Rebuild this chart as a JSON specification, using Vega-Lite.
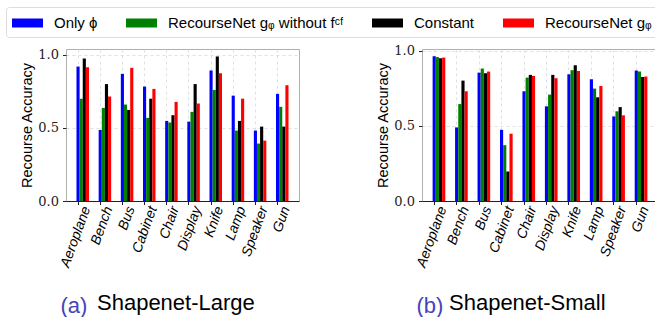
{
  "$schema": "https://vega.github.io/schema/vega-lite/v6.json",
  "autosize": {"type": "pad"},
  "padding": {"left": 5, "top": 6, "right": 0, "bottom": 0},
  "background": "white",
  "datasets": {
    "large": [
      {"category": "Aeroplane", "method": "Only ϕ", "value": 0.92},
      {"category": "Aeroplane", "method": "RecourseNet gᵩ without fᶜᶠ", "value": 0.70},
      {"category": "Aeroplane", "method": "Constant", "value": 0.975},
      {"category": "Aeroplane", "method": "RecourseNet gᵩ", "value": 0.915},
      {"category": "Bench", "method": "Only ϕ", "value": 0.486},
      {"category": "Bench", "method": "RecourseNet gᵩ without fᶜᶠ", "value": 0.637},
      {"category": "Bench", "method": "Constant", "value": 0.80},
      {"category": "Bench", "method": "RecourseNet gᵩ", "value": 0.715},
      {"category": "Bus", "method": "Only ϕ", "value": 0.87},
      {"category": "Bus", "method": "RecourseNet gᵩ without fᶜᶠ", "value": 0.66},
      {"category": "Bus", "method": "Constant", "value": 0.623},
      {"category": "Bus", "method": "RecourseNet gᵩ", "value": 0.911},
      {"category": "Cabinet", "method": "Only ϕ", "value": 0.783},
      {"category": "Cabinet", "method": "RecourseNet gᵩ without fᶜᶠ", "value": 0.569},
      {"category": "Cabinet", "method": "Constant", "value": 0.70},
      {"category": "Cabinet", "method": "RecourseNet gᵩ", "value": 0.767},
      {"category": "Chair", "method": "Only ϕ", "value": 0.548},
      {"category": "Chair", "method": "RecourseNet gᵩ without fᶜᶠ", "value": 0.537},
      {"category": "Chair", "method": "Constant", "value": 0.587},
      {"category": "Chair", "method": "RecourseNet gᵩ", "value": 0.678},
      {"category": "Display", "method": "Only ϕ", "value": 0.543},
      {"category": "Display", "method": "RecourseNet gᵩ without fᶜᶠ", "value": 0.61},
      {"category": "Display", "method": "Constant", "value": 0.80},
      {"category": "Display", "method": "RecourseNet gᵩ", "value": 0.667},
      {"category": "Knife", "method": "Only ϕ", "value": 0.893},
      {"category": "Knife", "method": "RecourseNet gᵩ without fᶜᶠ", "value": 0.76},
      {"category": "Knife", "method": "Constant", "value": 0.989},
      {"category": "Knife", "method": "RecourseNet gᵩ", "value": 0.874},
      {"category": "Lamp", "method": "Only ϕ", "value": 0.721},
      {"category": "Lamp", "method": "RecourseNet gᵩ without fᶜᶠ", "value": 0.482},
      {"category": "Lamp", "method": "Constant", "value": 0.548},
      {"category": "Lamp", "method": "RecourseNet gᵩ", "value": 0.70},
      {"category": "Speaker", "method": "Only ϕ", "value": 0.482},
      {"category": "Speaker", "method": "RecourseNet gᵩ without fᶜᶠ", "value": 0.393},
      {"category": "Speaker", "method": "Constant", "value": 0.509},
      {"category": "Speaker", "method": "RecourseNet gᵩ", "value": 0.413},
      {"category": "Gun", "method": "Only ϕ", "value": 0.733},
      {"category": "Gun", "method": "RecourseNet gᵩ without fᶜᶠ", "value": 0.644},
      {"category": "Gun", "method": "Constant", "value": 0.509},
      {"category": "Gun", "method": "RecourseNet gᵩ", "value": 0.792}
    ],
    "small": [
      {"category": "Aeroplane", "method": "Only ϕ", "value": 0.962},
      {"category": "Aeroplane", "method": "RecourseNet gᵩ without fᶜᶠ", "value": 0.956},
      {"category": "Aeroplane", "method": "Constant", "value": 0.949},
      {"category": "Aeroplane", "method": "RecourseNet gᵩ", "value": 0.953},
      {"category": "Bench", "method": "Only ϕ", "value": 0.489},
      {"category": "Bench", "method": "RecourseNet gᵩ without fᶜᶠ", "value": 0.644},
      {"category": "Bench", "method": "Constant", "value": 0.80},
      {"category": "Bench", "method": "RecourseNet gᵩ", "value": 0.729},
      {"category": "Bus", "method": "Only ϕ", "value": 0.853},
      {"category": "Bus", "method": "RecourseNet gᵩ without fᶜᶠ", "value": 0.88},
      {"category": "Bus", "method": "Constant", "value": 0.849},
      {"category": "Bus", "method": "RecourseNet gᵩ", "value": 0.86},
      {"category": "Cabinet", "method": "Only ϕ", "value": 0.473},
      {"category": "Cabinet", "method": "RecourseNet gᵩ without fᶜᶠ", "value": 0.371},
      {"category": "Cabinet", "method": "Constant", "value": 0.196},
      {"category": "Cabinet", "method": "RecourseNet gᵩ", "value": 0.447},
      {"category": "Chair", "method": "Only ϕ", "value": 0.729},
      {"category": "Chair", "method": "RecourseNet gᵩ without fᶜᶠ", "value": 0.82},
      {"category": "Chair", "method": "Constant", "value": 0.838},
      {"category": "Chair", "method": "RecourseNet gᵩ", "value": 0.831},
      {"category": "Display", "method": "Only ϕ", "value": 0.629},
      {"category": "Display", "method": "RecourseNet gᵩ without fᶜᶠ", "value": 0.707},
      {"category": "Display", "method": "Constant", "value": 0.838},
      {"category": "Display", "method": "RecourseNet gᵩ", "value": 0.816},
      {"category": "Knife", "method": "Only ϕ", "value": 0.842},
      {"category": "Knife", "method": "RecourseNet gᵩ without fᶜᶠ", "value": 0.869},
      {"category": "Knife", "method": "Constant", "value": 0.902},
      {"category": "Knife", "method": "RecourseNet gᵩ", "value": 0.864},
      {"category": "Lamp", "method": "Only ϕ", "value": 0.809},
      {"category": "Lamp", "method": "RecourseNet gᵩ without fᶜᶠ", "value": 0.747},
      {"category": "Lamp", "method": "Constant", "value": 0.689},
      {"category": "Lamp", "method": "RecourseNet gᵩ", "value": 0.764},
      {"category": "Speaker", "method": "Only ϕ", "value": 0.562},
      {"category": "Speaker", "method": "RecourseNet gᵩ without fᶜᶠ", "value": 0.596},
      {"category": "Speaker", "method": "Constant", "value": 0.624},
      {"category": "Speaker", "method": "RecourseNet gᵩ", "value": 0.569},
      {"category": "Gun", "method": "Only ϕ", "value": 0.867},
      {"category": "Gun", "method": "RecourseNet gᵩ without fᶜᶠ", "value": 0.86},
      {"category": "Gun", "method": "Constant", "value": 0.824},
      {"category": "Gun", "method": "RecourseNet gᵩ", "value": 0.827}
    ]
  },
  "config": {
    "font": "Liberation Sans",
    "view": {"stroke": "#b0b0b0", "strokeWidth": 1},
    "axis": {
      "gridColor": "#d8d8d8",
      "gridDash": [3, 3],
      "gridWidth": 0.8,
      "tickColor": "#222222",
      "tickSize": 3.5,
      "domain": false
    },
    "axisX": {
      "domain": true,
      "domainColor": "#222222",
      "labelFont": "Liberation Sans",
      "labelFontStyle": "italic",
      "labelFontSize": 14,
      "labelColor": "#000000",
      "labelAngle": -70,
      "labelPadding": 2,
      "labelOffset": 4,
      "bandPosition": 0.125,
      "grid": true,
      "titleFont": "Liberation Sans",
      "titleFontSize": 22,
      "titleFontWeight": "normal",
      "titleColor": "#4444bb",
      "titleAlign": "left",
      "titleBaseline": "alphabetic",
      "titleAnchor": null,
      "titleX": -6,
      "titleY": 111
    },
    "axisY": {
      "labelFont": "DejaVu Serif",
      "labelFontSize": 13,
      "labelColor": "#222222",
      "labelPadding": 4,
      "titleFont": "Liberation Sans",
      "titleFontSize": 14.5,
      "titleFontWeight": "normal",
      "titleColor": "#000000",
      "titlePadding": 3,
      "grid": true
    },
    "legend": {
      "orient": "none",
      "legendX": -60,
      "legendY": -42,
      "direction": "horizontal",
      "title": null,
      "symbolType": "M-1,-0.45H2.1V0.45H-1Z",
      "symbolSize": 400,
      "symbolStrokeWidth": 0,
      "symbolOpacity": 1,
      "labelOffset": 22,
      "labelFont": "Liberation Sans",
      "labelFontSize": 15,
      "labelColor": "#000000",
      "labelLimit": 400,
      "columnPadding": 28,
      "padding": 6,
      "strokeColor": "#dddddd",
      "cornerRadius": 3
    },
    "title": {
      "font": "Liberation Sans",
      "fontSize": 22,
      "fontWeight": "normal",
      "color": "#000000",
      "orient": "bottom",
      "anchor": "start",
      "frame": "group",
      "baseline": "alphabetic",
      "offset": -23
    }
  },
  "spacing": 75,
  "resolve": {
    "scale": {"color": "shared", "x": "independent", "y": "independent", "xOffset": "independent"},
    "legend": {"color": "shared"}
  },
  "hconcat": [
    {
      "width": 233,
      "height": 152,
      "data": {"name": "large"},
      "title": {"text": "Shapenet-Large", "dx": 31},
      "mark": {"type": "bar"},
      "encoding": {
        "x": {
          "field": "category", "type": "nominal",
          "sort": ["Aeroplane", "Bench", "Bus", "Cabinet", "Chair", "Display", "Knife", "Lamp", "Speaker", "Gun"],
          "scale": {"paddingInner": 0.436, "paddingOuter": 0.473},
          "axis": {"title": "(a)"}
        },
        "xOffset": {
          "field": "method", "type": "nominal",
          "sort": ["Only ϕ", "RecourseNet gᵩ without fᶜᶠ", "Constant", "RecourseNet gᵩ"],
          "scale": {"paddingInner": 0, "paddingOuter": 0}
        },
        "y": {
          "field": "value", "type": "quantitative",
          "scale": {"domain": [0, 1.04], "nice": false},
          "axis": {"values": [0, 0.5, 1], "format": ".1f", "title": "Recourse Accuracy"}
        },
        "color": {
          "field": "method", "type": "nominal",
          "sort": ["Only ϕ", "RecourseNet gᵩ without fᶜᶠ", "Constant", "RecourseNet gᵩ"],
          "scale": {"domain": ["Only ϕ", "RecourseNet gᵩ without fᶜᶠ", "Constant", "RecourseNet gᵩ"], "range": ["#0000ff", "#008000", "#000000", "#ff0000"]}
        }
      }
    },
    {
      "width": 236,
      "height": 152,
      "data": {"name": "small"},
      "title": {"text": "Shapenet-Small", "dx": 27},
      "mark": {"type": "bar"},
      "encoding": {
        "x": {
          "field": "category", "type": "nominal",
          "sort": ["Aeroplane", "Bench", "Bus", "Cabinet", "Chair", "Display", "Knife", "Lamp", "Speaker", "Gun"],
          "scale": {"paddingInner": 0.436, "paddingOuter": 0.473},
          "axis": {"title": "(b)"}
        },
        "xOffset": {
          "field": "method", "type": "nominal",
          "sort": ["Only ϕ", "RecourseNet gᵩ without fᶜᶠ", "Constant", "RecourseNet gᵩ"],
          "scale": {"paddingInner": 0, "paddingOuter": 0}
        },
        "y": {
          "field": "value", "type": "quantitative",
          "scale": {"domain": [0, 1.01], "nice": false},
          "axis": {"values": [0, 0.5, 1], "format": ".1f", "title": "Recourse Accuracy"}
        },
        "color": {
          "field": "method", "type": "nominal",
          "sort": ["Only ϕ", "RecourseNet gᵩ without fᶜᶠ", "Constant", "RecourseNet gᵩ"],
          "scale": {"domain": ["Only ϕ", "RecourseNet gᵩ without fᶜᶠ", "Constant", "RecourseNet gᵩ"], "range": ["#0000ff", "#008000", "#000000", "#ff0000"]}
        }
      }
    }
  ]
}
